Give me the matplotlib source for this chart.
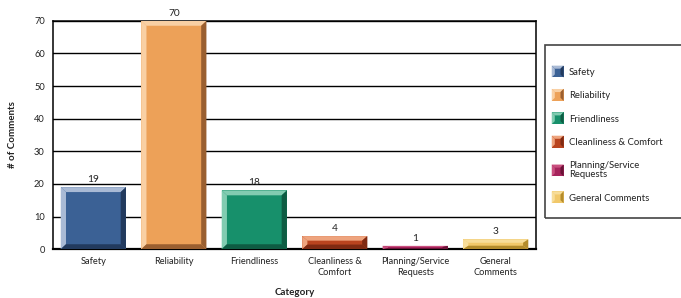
import matplotlib
matplotlib.use("Agg")
import matplotlib.pyplot as plt
from matplotlib.patches import Polygon, Rectangle
from matplotlib.legend_handler import HandlerBase

categories = ["Safety", "Reliability", "Friendliness", "Cleanliness &\nComfort",
              "Planning/Service\nRequests", "General\nComments"]
legend_labels = ["Safety", "Reliability", "Friendliness", "Cleanliness & Comfort",
                 "Planning/Service\nRequests", "General Comments"]
values = [19, 70, 18, 4, 1, 3]
yticks = [0, 10, 20, 30, 40, 50, 60, 70]

main_c = ["#3b6195", "#eda158", "#17906b", "#b9441f", "#a6245c", "#f1c86a"]
light_c = ["#a9bad5", "#f9d0a4", "#82ccb1", "#eea47e", "#c9507f", "#f7dd9a"]
dark_c = ["#223a5e", "#9a5f30", "#0e5c43", "#7f2a12", "#6a1236", "#b48c2c"]

plt.rcParams['font.family'] = ['Lato', 'DejaVu Sans']
fig = plt.figure(figsize=(6.81, 2.98), dpi=100)
ax = fig.add_axes([0.078, 0.164, 0.709, 0.766])

x = list(range(len(categories)))
w = 0.81
bars = ax.bar(x, values, width=w, color=main_c, zorder=3, linewidth=0)
bx = 0.065
for b, h, lc, dc in zip(bars, values, light_c, dark_c):
    x0 = b.get_x(); x1 = x0 + b.get_width()
    by = min(1.5, h * 0.35)
    faces = [
        ([(x0, 0), (x0, h), (x0 + bx, h - by), (x0 + bx, by)], lc),
        ([(x0, h), (x1, h), (x1 - bx, h - by), (x0 + bx, h - by)], lc),
        ([(x1, h), (x1, 0), (x1 - bx, by), (x1 - bx, h - by)], dc),
        ([(x0, 0), (x1, 0), (x1 - bx, by), (x0 + bx, by)], dc),
    ]
    for pts, c in faces:
        ax.add_patch(Polygon(pts, closed=True, facecolor=c, edgecolor='none', zorder=4))
    ax.text(b.get_x() + b.get_width() / 2, h + 0.9, str(h), ha='center', va='bottom',
            fontsize=7.3, color='#222222', zorder=5, clip_on=False)

ax.set_xlim(-0.5, len(categories) - 0.5)
ax.set_ylim(0, 70)
ax.set_yticks(yticks)
ax.set_xticks(x)
ax.set_xticklabels(categories, fontsize=6.7, color='#222222')
ax.tick_params(axis='y', labelsize=6.7, length=0, pad=6, labelcolor='#222222')
ax.tick_params(axis='x', length=0, pad=6)
ax.yaxis.grid(True, color='black', linewidth=1.0, zorder=0)
ax.set_axisbelow(True)
for s in ax.spines.values():
    s.set_color('black'); s.set_linewidth(1.1)
ax.spines['bottom'].set_linewidth(1.6)
ax.set_ylabel("# of Comments", fontsize=7, fontweight='bold', labelpad=12, color='#222222')
ax.set_xlabel("Category", fontsize=7, fontweight='bold', labelpad=8, color='#222222')


class BevelHandler(HandlerBase):
    def create_artists(self, legend, orig_handle, xdescent, ydescent, width, height, fontsize, trans):
        s = 8.5
        x0 = -xdescent + (width - s) / 2
        y0 = -ydescent + (height - s) / 2
        x1, y1 = x0 + s, y0 + s
        d = 2.2
        mc, lc, dc = orig_handle
        arts = [
            Rectangle((x0, y0), s, s, facecolor=mc, edgecolor='none', transform=trans),
            Polygon([(x0, y0), (x0, y1), (x0 + d, y1 - d), (x0 + d, y0 + d)], facecolor=lc, edgecolor='none', transform=trans),
            Polygon([(x0, y1), (x1, y1), (x1 - d, y1 - d), (x0 + d, y1 - d)], facecolor=lc, edgecolor='none', transform=trans),
            Polygon([(x1, y1), (x1, y0), (x1 - d, y0 + d), (x1 - d, y1 - d)], facecolor=dc, edgecolor='none', transform=trans),
        ]
        return arts


handles = [(m, l, d) for m, l, d in zip(main_c, light_c, dark_c)]
leg = fig.legend(handles, legend_labels, handler_map={tuple: BevelHandler()},
                 loc='upper left', bbox_to_anchor=(0.805, 0.785), frameon=False,
                 fontsize=6.8, labelspacing=1.52, handlelength=1.2, handletextpad=0.6,
                 borderaxespad=0)
for t in leg.get_texts():
    t.set_color('#222222')
    t.set_linespacing(1.0)
fig.add_artist(Rectangle((0.800, 0.268), 0.25, 0.581, transform=fig.transFigure,
                         facecolor='none', edgecolor='#444444', linewidth=1.2))

fig.savefig("out.png", dpi=100)
